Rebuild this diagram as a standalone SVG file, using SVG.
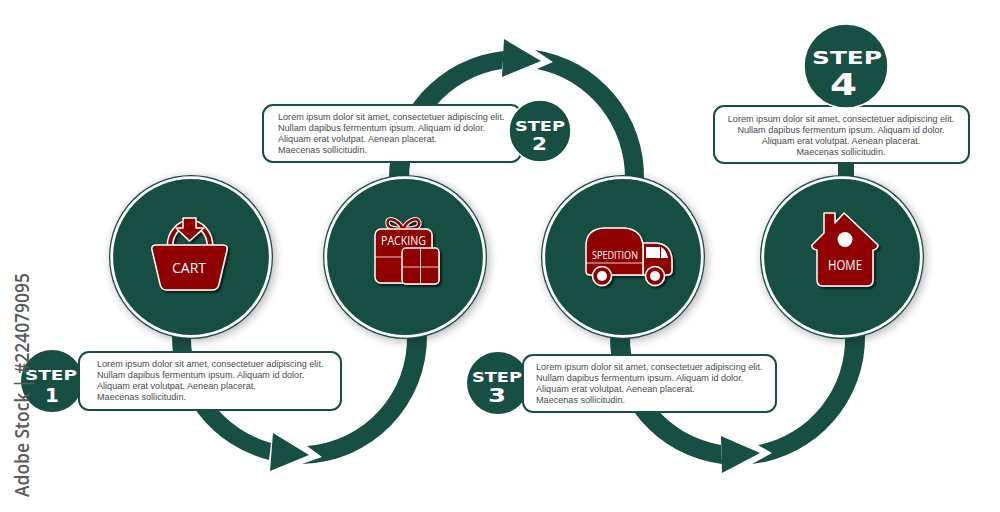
<svg xmlns="http://www.w3.org/2000/svg" width="1000" height="512" viewBox="0 0 1000 512">
<style>
.g{fill:#184f43}
.disc{fill:#184f43;filter:url(#soft)}
.ring{fill:none;stroke:#fff;stroke-width:2.8}
.box{fill:#fff;stroke:#184f43;stroke-width:2}
.halo{fill:#184f43;stroke:#fff;stroke-width:1.5}
.t{font-family:"Liberation Sans",Arial,sans-serif;font-size:9.1px;fill:#4a4a50}
.m{text-anchor:middle}
.s{font-family:"DejaVu Sans",sans-serif;font-weight:700;fill:#fff;text-anchor:middle}
.ic{fill:#8f0000;stroke:#fff;stroke-width:1.5;stroke-linejoin:round}
.il{fill:none;stroke:#fff;stroke-width:1;stroke-opacity:.8}
.w{fill:#fff}
.lb{font-family:"Open Sans",sans-serif;fill:#fff;text-anchor:middle}
</style>
<defs>
<filter id="soft" x="-20%" y="-20%" width="145%" height="145%">
<feGaussianBlur in="SourceAlpha" stdDeviation="5"/>
<feOffset dx="2" dy="2"/>
<feComponentTransfer><feFuncA type="linear" slope="0.3"/></feComponentTransfer>
<feMerge><feMergeNode/><feMergeNode in="SourceGraphic"/></feMerge>
</filter>
<filter id="ds" x="-15%" y="-15%" width="135%" height="135%">
<feGaussianBlur in="SourceAlpha" stdDeviation="0.9"/>
<feOffset dx="1.500" dy="1.500"/>
<feComponentTransfer><feFuncA type="linear" slope="0.7"/></feComponentTransfer>
<feMerge><feMergeNode/><feMergeNode in="SourceGraphic"/></feMerge>
</filter>
</defs>
<rect width="1000" height="512" fill="#fff"/>
<g id="connectors" class="g">
<path d="M172,335A127.500,127.500 0 0 0 269,460L271,443A109,109 0 0 1 191,335Z"/>
<path d="M273,433L309,455L270,471Z"/>
<path d="M302,464A127.500,127.500 0 0 0 427,335L407,335A108,108 0 0 1 307,446L322,457Z"/>
<path d="M389,180A127.500,128 0 0 1 504,51L502,69A108,111 0 0 0 409,180Z"/>
<path d="M504,39L541,61L502,77Z"/>
<path d="M535,50A127.500,128 0 0 1 644,180L625,180A108,111 0 0 0 537,69L553,62Z"/>
<path d="M610,335A127.500,127.500 0 0 0 722,464L721,445A109,109 0 0 1 630,335Z"/>
<path d="M721,436L760,453L722,473Z"/>
<path d="M752,464A127.500,127.500 0 0 0 865,335L845,335A108,108 0 0 1 758,445L772,453Z"/>
<rect x="838" y="158" width="16" height="22"/>
</g>
<g id="node-cart">
<circle class="disc" cx="191" cy="257" r="82"/>
<circle class="ring" cx="191" cy="257" r="79.300"/>
<g filter="url(#ds)">
<path d="M170,246A20,23 0 0 1 210,246" fill="none" stroke="#fff" stroke-width="7"/>
<path d="M170,246A20,23 0 0 1 210,246" fill="none" stroke="#8f0000" stroke-width="4"/>
<path class="ic" d="M183,218H196V228H204L189.500,241L176,228H183Z"/>
<path class="ic" d="M156,245H223Q228,245 227,250L219,284Q218,290 212,290H167Q161,290 160,284L152,250Q151,245 156,245Z"/>
</g>
<text class="lb" x="189" y="273" font-size="14.500" textLength="34" lengthAdjust="spacingAndGlyphs">CART</text>
</g>
<g id="node-packing">
<circle class="disc" cx="405" cy="257" r="82"/>
<circle class="ring" cx="405" cy="257" r="79.300"/>
<g filter="url(#ds)">
<path d="M403,229C397,218 385,216 388,225C390,229 397,229 403,229C409,218 421,216 419,225C417,229 409,229 403,229Z" fill="none" stroke="#fff" stroke-width="4.500"/>
<path d="M403,229C397,218 385,216 388,225C390,229 397,229 403,229C409,218 421,216 419,225C417,229 409,229 403,229Z" fill="none" stroke="#8f0000" stroke-width="2.500"/>
<rect class="ic" x="375" y="229" width="57" height="54" rx="6"/>
<path class="il" d="M375,257H403"/>
<rect class="ic" x="402" y="248" width="37" height="36" rx="4"/>
<path class="il" d="M420.500,248V284M402,267H439"/>
</g>
<text class="lb" x="403.500" y="245" font-size="13" textLength="45" lengthAdjust="spacingAndGlyphs">PACKING</text>
</g>
<g id="node-spedition">
<circle class="disc" cx="623" cy="257" r="82"/>
<circle class="ring" cx="623" cy="257" r="79.300"/>
<g filter="url(#ds)">
<path class="ic" d="M643,243H656Q672,244 672,262V270Q672,275 667,275H643Z"/>
<path class="ic" d="M604,228H625Q643,230 643,248V275H590Q586,275 586,271V246Q586,229 604,228Z"/>
<path class="w" d="M646,247H660V258H646Z"/>
<path class="w" d="M661,247Q666,249 668,258H661Z"/>
<path class="il" d="M586,263H643"/>
<circle class="ic" cx="602" cy="276" r="9.500"/>
<circle class="w" cx="602" cy="276" r="5"/>
<circle class="ic" cx="655" cy="276" r="9.500"/>
<circle class="w" cx="655" cy="276" r="5"/>
</g>
<text class="lb" x="615" y="259" font-size="11.500" textLength="46" lengthAdjust="spacingAndGlyphs">SPEDITION</text>
</g>
<g id="node-home">
<circle class="disc" cx="842" cy="257" r="82"/>
<circle class="ring" cx="842" cy="257" r="79.300"/>
<g filter="url(#ds)">
<path class="ic" d="M824,213H835V223L844,213L878,245Q878,249 873,250V280Q873,286 867,286H823Q817,286 817,280V250Q811,249 812,245L824,233Z"/>
</g>
<circle class="w" cx="845" cy="239.500" r="7.500"/>
<text class="lb" x="845" y="270" font-size="14.500" textLength="34" lengthAdjust="spacingAndGlyphs">HOME</text>
</g>
<g id="step-1">
<circle class="g" cx="52" cy="381" r="31"/>
<rect class="box" x="79" y="352" width="262" height="58" rx="10"/>
<text class="t" x="97" y="367">Lorem ipsum dolor sit amet, consectetuer adipiscing elit.</text>
<text class="t" x="97" y="378">Nullam dapibus fermentum ipsum. Aliquam id dolor.</text>
<text class="t" x="97" y="389">Aliquam erat volutpat. Aenean placerat.</text>
<text class="t" x="97" y="400">Maecenas sollicitudin.</text>
<text class="s" x="51" y="380" font-size="14" textLength="52" lengthAdjust="spacingAndGlyphs">STEP</text>
<text class="s" x="52" y="402" font-size="20">1</text>
</g>
<g id="step-2">
<rect class="box" x="263" y="105" width="258" height="57" rx="10"/>
<circle class="halo" cx="540" cy="131" r="31"/>
<text class="t" x="278" y="120">Lorem ipsum dolor sit amet, consectetuer adipiscing elit.</text>
<text class="t" x="278" y="131">Nullam dapibus fermentum ipsum. Aliquam id dolor.</text>
<text class="t" x="278" y="142">Aliquam erat volutpat. Aenean placerat.</text>
<text class="t" x="278" y="153">Maecenas sollicitudin.</text>
<text class="s" x="540" y="131" font-size="14" textLength="50" lengthAdjust="spacingAndGlyphs">STEP</text>
<text class="s" x="539.500" y="150" font-size="18" textLength="15" lengthAdjust="spacingAndGlyphs">2</text>
</g>
<g id="step-3">
<circle class="g" cx="498" cy="383" r="31"/>
<rect class="box" x="523" y="355" width="253" height="57" rx="10"/>
<text class="t" x="536" y="370">Lorem ipsum dolor sit amet, consectetuer adipiscing elit.</text>
<text class="t" x="536" y="381">Nullam dapibus fermentum ipsum. Aliquam id dolor.</text>
<text class="t" x="536" y="392">Aliquam erat volutpat. Aenean placerat.</text>
<text class="t" x="536" y="403">Maecenas sollicitudin.</text>
<text class="s" x="497" y="382" font-size="14" textLength="50" lengthAdjust="spacingAndGlyphs">STEP</text>
<text class="s" x="497" y="402" font-size="20" textLength="18" lengthAdjust="spacingAndGlyphs">3</text>
</g>
<g id="step-4">
<rect class="box" x="714" y="106" width="255" height="57" rx="10"/>
<circle class="halo" cx="846" cy="66" r="42"/>
<text class="t m" x="841" y="122">Lorem ipsum dolor sit amet, consectetuer adipiscing elit.</text>
<text class="t m" x="841" y="133">Nullam dapibus fermentum ipsum. Aliquam id dolor.</text>
<text class="t m" x="841" y="144">Aliquam erat volutpat. Aenean placerat.</text>
<text class="t m" x="841" y="155">Maecenas sollicitudin.</text>
<text class="s" x="847" y="64" font-size="18" textLength="70" lengthAdjust="spacingAndGlyphs">STEP</text>
<text class="s" x="843.500" y="95" font-size="31" textLength="27" lengthAdjust="spacingAndGlyphs">4</text>
</g>
<text transform="translate(29,497) rotate(-90)" font-family="Open Sans,sans-serif" font-weight="600" font-size="19.500" fill="#5a5a5a" textLength="224" lengthAdjust="spacingAndGlyphs">Adobe Stock | #224079095</text>
</svg>
